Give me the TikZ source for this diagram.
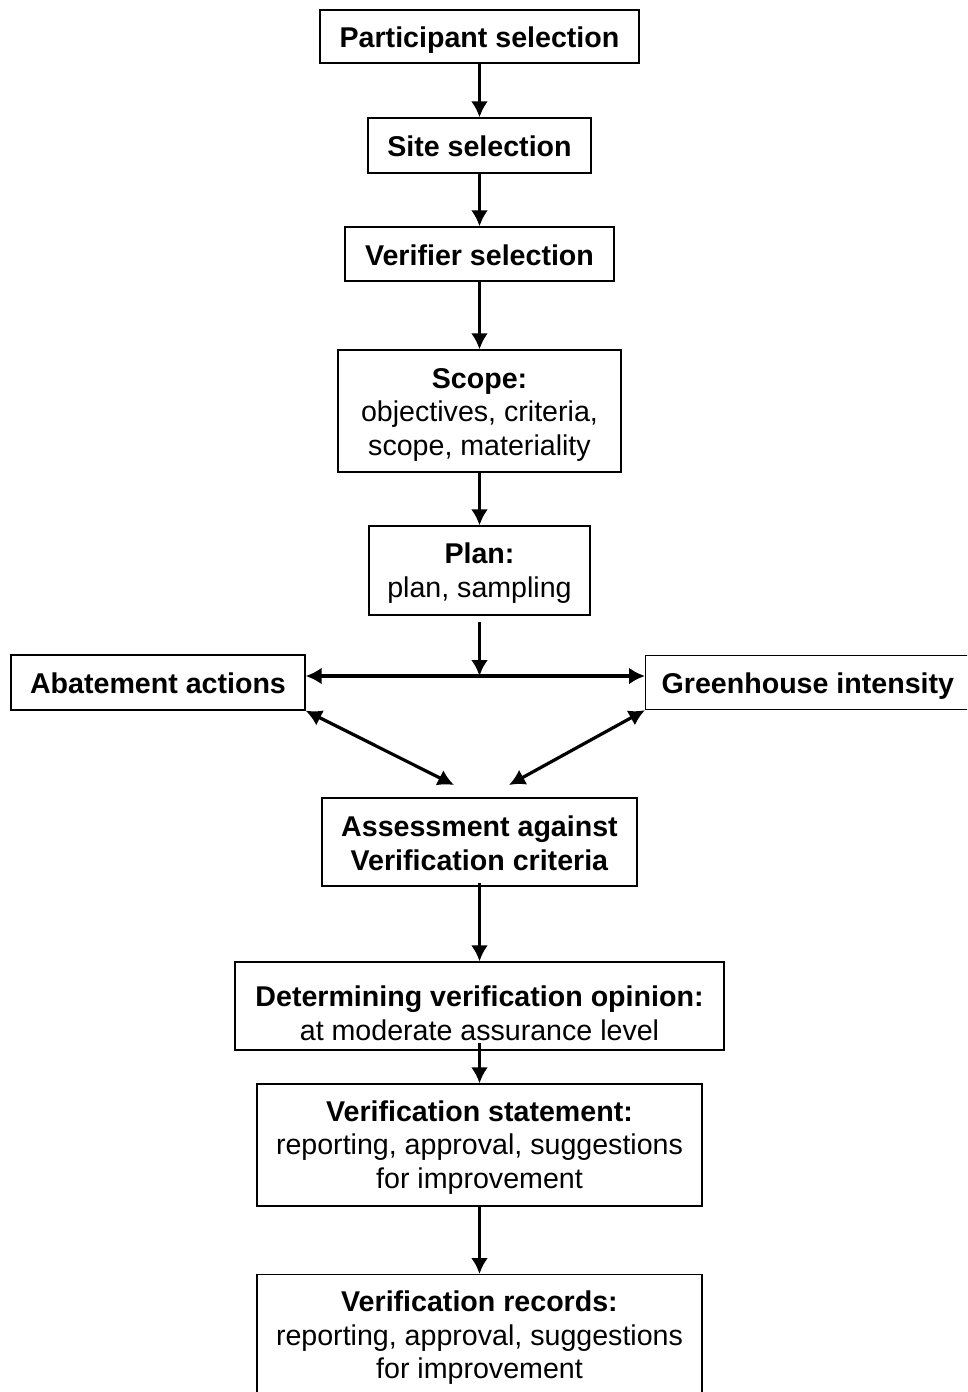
\documentclass[tikz,border=0pt]{standalone}
\usepackage{fontspec}
\setmainfont{Liberation Sans}
\usetikzlibrary{arrows.meta}
\begin{document}
\begin{tikzpicture}[x=1pt,y=-1pt,
  box/.style={draw,line width=1.3pt,inner sep=0pt,align=center,
    font=\fontsize{28.6}{33.5}\selectfont},
  one/.style={box,text height=22.5pt,text depth=0pt},
  multi/.style={box,text height=#1,text depth=0pt},
  arr/.style={line width=3.2pt,-{Latex[length=16pt,width=17pt]}},
  darr/.style={line width=3.2pt,{Latex[length=16pt,width=17pt]}-{Latex[length=16pt,width=17pt]}}]
\useasboundingbox (0,0) rectangle (967,1392);
\clip (0,0) rectangle (967,1392);
\node[one,minimum width=319pt,minimum height=53pt] (p) at (479.5,36.5) {\textbf{Participant selection}};
\node[one,minimum width=223pt,minimum height=55pt] (s) at (479.5,145.5) {\textbf{Site selection}};
\node[one,minimum width=269pt,minimum height=54pt] (v) at (479.5,254) {\textbf{Verifier selection}};
\node[multi=88pt,minimum width=283pt,minimum height=122pt] (sc) at (479.5,411) {\textbf{Scope:}\\objectives, criteria,\\scope, materiality};
\node[multi=53pt,minimum width=221pt,minimum height=89pt] (pl) at (479.5,570.5) {\textbf{Plan:}\\plan, sampling};
\node[one,minimum width=294pt,minimum height=55pt] (ab) at (158,682.5) {\textbf{Abatement actions}};
\node[one,inner xsep=16pt,minimum height=54pt,anchor=west] (gh) at (645,682.5) {\textbf{Greenhouse intensity}};
\node[multi=56pt,minimum width=315pt,minimum height=88pt] (as) at (479.5,842) {\textbf{Assessment against}\\\textbf{Verification criteria}};
\node[multi=68pt,minimum width=489pt,minimum height=88pt] (d) at (479.5,1006) {\textbf{Determining verification opinion:}\\at moderate assurance level};
\node[multi=86pt,minimum width=445pt,minimum height=122pt] (vs) at (479.5,1145) {\textbf{Verification statement:}\\reporting, approval, suggestions\\for improvement};
\node[multi=78pt,minimum width=445pt,minimum height=130pt,anchor=north] (vr) at (479.5,1274) {\textbf{Verification records:}\\reporting, approval, suggestions\\for improvement};
\coordinate (j) at (479.5,676);
\coordinate (lt) at (454,785);
\coordinate (rt) at (509,785);
\draw[arr] (p.south) -- (s.north);
\draw[arr] (s.south) -- (v.north);
\draw[arr] (v.south) -- (sc.north);
\draw[arr] (sc.south) -- (pl.north);
\draw[arr] ([yshift=-6pt]pl.south) -- (j);
\draw[darr] (ab.east|-j) -- (gh.west|-j);
\draw[darr] (ab.south east) -- (lt);
\draw[darr] (gh.south west) -- (rt);
\draw[arr] ([yshift=4pt]as.south) -- (d.north);
\draw[arr] ([yshift=8pt]d.south) -- (vs.north);
\draw[arr] (vs.south) -- (vr.north);
\end{tikzpicture}
\end{document}
